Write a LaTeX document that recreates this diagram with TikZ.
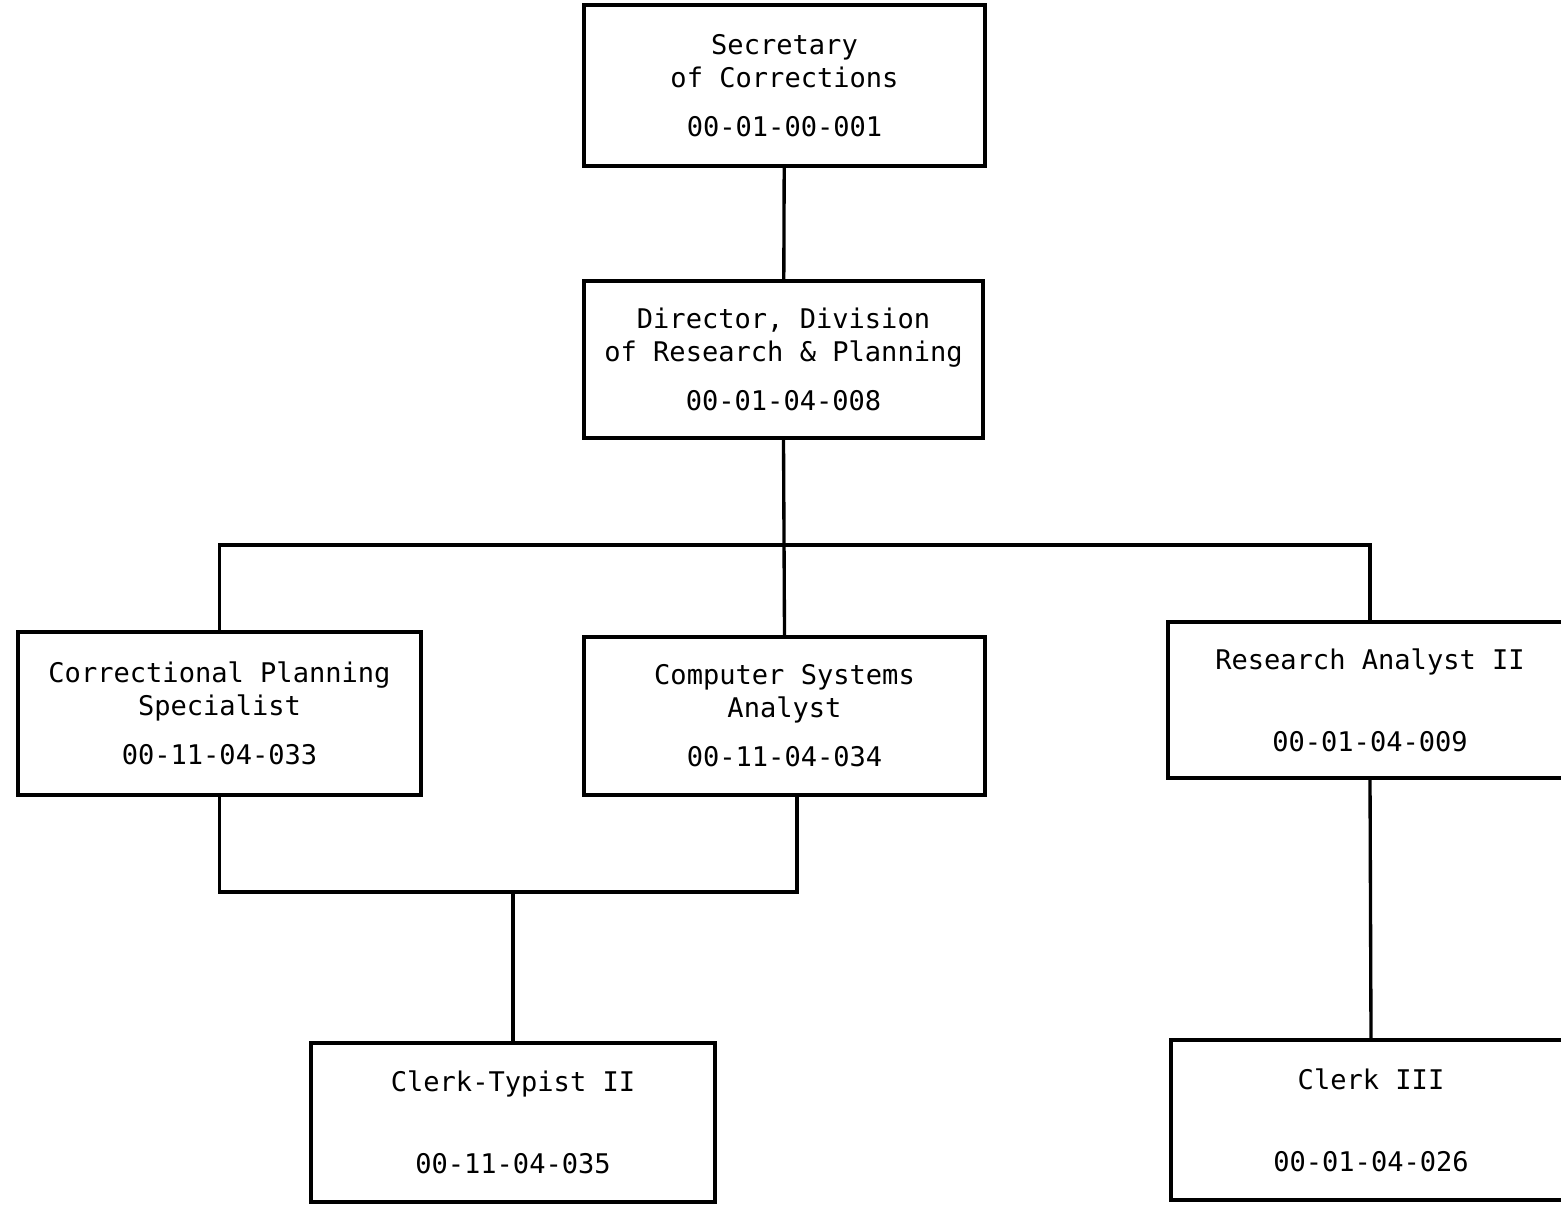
\documentclass[tikz,border=0pt]{standalone}
\usepackage{fontspec}
\setmonofont{DejaVu Sans Mono}

\newcommand{\boxLineWidth}{2.4pt}
\newcommand{\linkLineWidth}{1.9pt}
\newcommand{\numGap}{9pt}
\newcommand{\bigNumGap}{28pt}
\newcommand{\busY}{545}
\newcommand{\joinY}{892}
\newcommand{\csaDropX}{797}

\tikzset{
  post/.style={draw, line width=\boxLineWidth, inner sep=0pt, align=center,
    minimum width=8.02cm, minimum height=3.2cm,
    font=\ttfamily\fontsize{15.4}{18.8}\selectfont},
  link/.style={line width=\linkLineWidth, black}
}

\begin{document}
\begin{tikzpicture}[x=0.02cm, y=-0.02cm]
        \useasboundingbox[fill=white] (0,0) rectangle (1561,1204);

        % Boxes
        \node[post, minimum height=3.22cm] (sec) at (784.5,85.5) {Secretary\\of Corrections\\[\numGap]00-01-00-001};
        \node[post, minimum width=7.98cm, minimum height=3.14cm] (dir) at (783.5,359.5) {Director, Division\\of Research \& Planning\\[\numGap]00-01-04-008};
        \node[post, minimum width=8.06cm, minimum height=3.26cm] (cps) at (219.5,713.5) {Correctional Planning\\Specialist\\[\numGap]00-11-04-033};
        \node[post, minimum height=3.16cm] (csa) at (784.5,716) {Computer Systems\\Analyst\\[\numGap]00-11-04-034};
        \node[post, minimum width=8.08cm, minimum height=3.12cm] (ra) at (1370,700) {Research Analyst II\\[\bigNumGap]00-01-04-009};
        \node[post, minimum width=8.08cm, minimum height=3.18cm] (ct) at (513,1122.5) {Clerk-Typist II\\[\bigNumGap]00-11-04-035};
        \node[post, minimum width=8.0cm] (cthree) at (1371,1120) {Clerk III\\[\bigNumGap]00-01-04-026};

        % Top line and bus
        \coordinate (bus) at (786,\busY);
        \draw[link] (sec) -- (dir);
        \draw[link] (dir.south) -- (csa.north);
        \draw[link] (cps.north) |- (bus) -| (ra.north);

        % Clerk lines
        \coordinate (join) at (\csaDropX,\joinY);
        \draw[link] (cps.south) |- (join) -- (join |- csa.south);
        \draw[link] (ct.north) -- (ct.north |- join);
        \draw[link] (ra.south) -- (cthree.north);
\end{tikzpicture}
\end{document}
